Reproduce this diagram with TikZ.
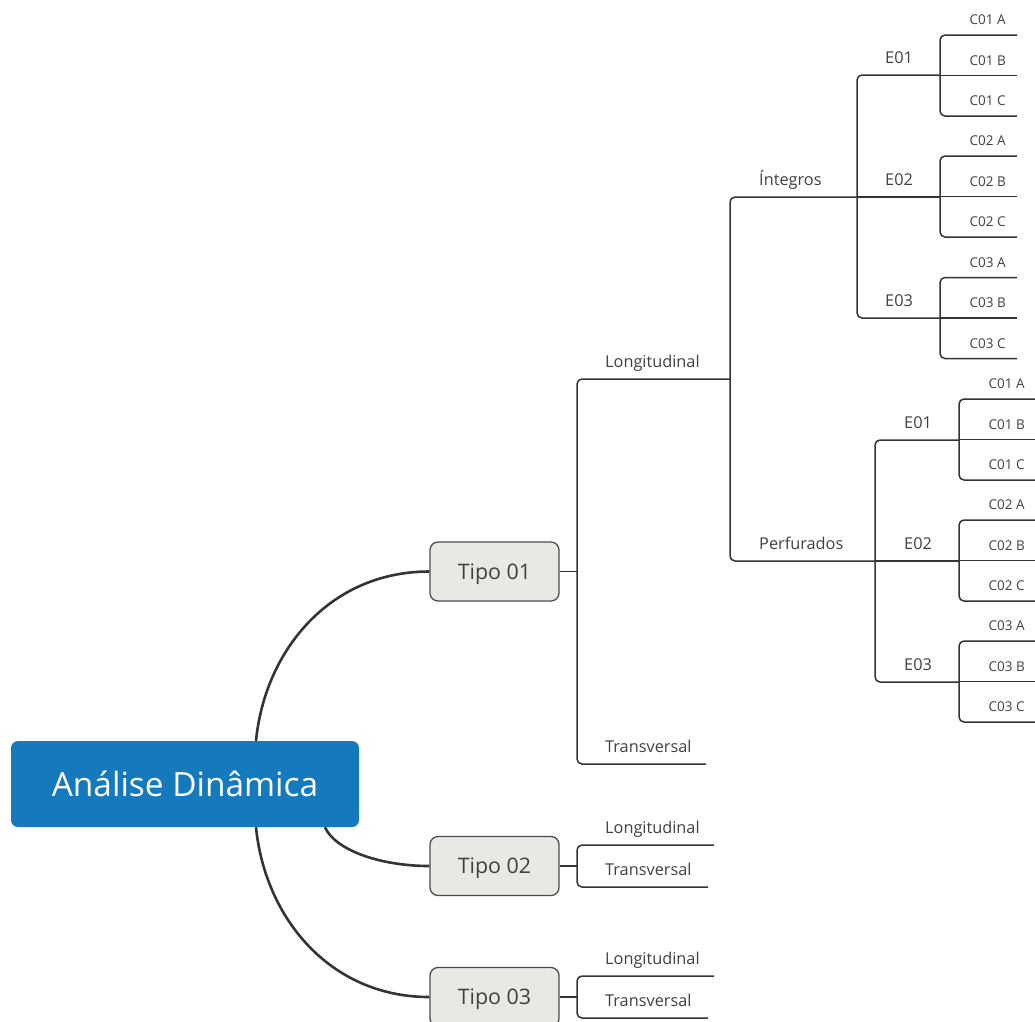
\documentclass[tikz,border=0pt]{standalone}
\usepackage{fontspec}
\setmainfont{Open Sans}
\definecolor{rootblue}{RGB}{21,121,189}
\definecolor{tipofill}{RGB}{233,232,228}
\definecolor{tipoborder}{RGB}{75,75,75}
\definecolor{linegray}{RGB}{52,52,52}
\definecolor{textgray}{RGB}{64,64,64}
\tikzset{
  rootbox/.style={rounded corners=7pt, fill=rootblue, text=white, inner sep=0pt,
    minimum width=348pt, minimum height=86pt, font=\fontsize{33.4pt}{40pt}\selectfont},
  tipobox/.style={rounded corners=8pt, fill=tipofill, draw=tipoborder, line width=1.3pt,
    minimum width=129pt, minimum height=59pt, inner sep=0pt, text=textgray,
    font=\fontsize{21.4pt}{26pt}\selectfont},
  tipotext/.style={inner sep=0pt, text=textgray, font=\fontsize{21.4pt}{26pt}\selectfont},
  lbl/.style={anchor=base west, inner sep=0pt, text=textgray, font=\fontsize{16.3pt}{19pt}\selectfont},
  clbl/.style={anchor=base west, inner sep=0pt, text=textgray, font=\fontsize{13.5pt}{16pt}\selectfont},
  branch/.style={draw=linegray, line width=1.5pt, rounded corners=5pt},
  stub/.style={draw=linegray, line width=1.5pt},
  rootcurve/.style={draw=linegray, line width=2.6pt},
}
\newcommand\mmgroup[5]{%
  \coordinate (#1a) at (#4,#3-40.5);
  \coordinate (#1b) at (#4,#3);
  \coordinate (#1c) at (#4,#3+40.5);
  \coordinate (#1j) at (#2,#3);
  \draw[branch] (#1a) -- (#1j |- #1a) -- (#1j |- #1c) -- (#1c);
  \draw[stub] (#1j) -- (#1b);
  \node[clbl] (#1A) at (#2+29.5,#3-40.5-10.5) {#5 A};
  \node[clbl] (#1B) at (#2+29.5,#3-10.5) {#5 B};
  \node[clbl] (#1C) at (#2+29.5,#3+40.5-10.5) {#5 C};
}
\begin{document}
\begin{tikzpicture}[x=1pt,y=-1pt]
\useasboundingbox (0,0) rectangle (1035,1021);
\clip (0,0) rectangle (1035,1021);

% main nodes
\node[rootbox] (root) at (185,784) {Análise Dinâmica};
\node[tipobox] (tipo1) at (494.5,571.5) {};
\node[tipobox] (tipo2) at (494.5,866) {};
\node[tipobox] (tipo3) at (494.5,997) {};
\node[tipotext] (tipo1t) at ([yshift=-2.5pt]tipo1.center) {Tipo 01};
\node[tipotext] (tipo2t) at ([yshift=-2.5pt]tipo2.center) {Tipo 02};
\node[tipotext] (tipo3t) at ([yshift=-2.5pt]tipo3.center) {Tipo 03};

% root curves
\draw[rootcurve] ([xshift=71pt]root.north) .. controls (265,650) and (330,571.5) .. (tipo1.west);
\draw[rootcurve] ([xshift=140pt]root.south) .. controls (335,850) and (380,866) .. (tipo2.west);
\draw[rootcurve] ([xshift=71pt]root.south) .. controls (265,918) and (330,997) .. (tipo3.west);

% ---------- Tipo 01 ----------
\coordinate (j1) at (577,571.5);
\coordinate (t1L) at (730,379);
\coordinate (t1T) at (706,764);
\draw[stub] (tipo1.east) -- (j1);
\draw[branch] (t1L) -- (j1 |- t1L) -- (j1 |- t1T) -- (t1T);
\node[lbl] (t1Llbl) at (605,367) {Longitudinal};
\node[lbl] (t1Tlbl) at (605,752) {Transversal};

% Longitudinal -> Integros / Perfurados
\coordinate (jI) at (857,197);
\coordinate (jP) at (875,561);
\draw[branch] (jI) -- (t1L |- jI) -- (t1L |- jP) -- (jP);
\node[lbl] (intlbl) at (759,185) {Íntegros};
\node[lbl] (perlbl) at (759,549) {Perfurados};

% Integros -> E01..E03
\coordinate (iE1) at (940,75);
\coordinate (iE2) at (940,197);
\coordinate (iE3) at (940,318);
\draw[branch] (iE1) -- (jI |- iE1) -- (jI |- iE3) -- (iE3);
\draw[stub] (jI) -- (iE2);
\node[lbl] (iE1lbl) at (885,63) {E01};
\node[lbl] (iE2lbl) at (885,185) {E02};
\node[lbl] (iE3lbl) at (885,306) {E03};
\mmgroup{ig1}{940}{75.5}{1017}{C01}
\mmgroup{ig2}{940}{196.5}{1017}{C02}
\mmgroup{ig3}{940}{318}{1017}{C03}

% Perfurados -> E01..E03
\coordinate (pE1) at (959,440);
\coordinate (pE2) at (959,561);
\coordinate (pE3) at (959,682);
\draw[branch] (pE1) -- (jP |- pE1) -- (jP |- pE3) -- (pE3);
\draw[stub] (jP) -- (pE2);
\node[lbl] (pE1lbl) at (904,428) {E01};
\node[lbl] (pE2lbl) at (904,549) {E02};
\node[lbl] (pE3lbl) at (904,670) {E03};
\mmgroup{pg1}{959}{439.5}{1045}{C01}
\mmgroup{pg2}{959}{560.5}{1045}{C02}
\mmgroup{pg3}{959}{681.5}{1045}{C03}

% ---------- Tipo 02 ----------
\coordinate (j2) at (577,866);
\coordinate (t2L) at (714,845);
\coordinate (t2T) at (708,887);
\draw[stub] (tipo2.east) -- (j2);
\draw[branch] (t2L) -- (j2 |- t2L) -- (j2 |- t2T) -- (t2T);
\node[lbl] (t2Llbl) at (605,833) {Longitudinal};
\node[lbl] (t2Tlbl) at (605,875) {Transversal};

% ---------- Tipo 03 ----------
\coordinate (j3) at (577,997);
\coordinate (t3L) at (714,976);
\coordinate (t3T) at (708,1018);
\draw[stub] (tipo3.east) -- (j3);
\draw[branch] (t3L) -- (j3 |- t3L) -- (j3 |- t3T) -- (t3T);
\node[lbl] (t3Llbl) at (605,964) {Longitudinal};
\node[lbl] (t3Tlbl) at (605,1006) {Transversal};
\end{tikzpicture}
\end{document}
